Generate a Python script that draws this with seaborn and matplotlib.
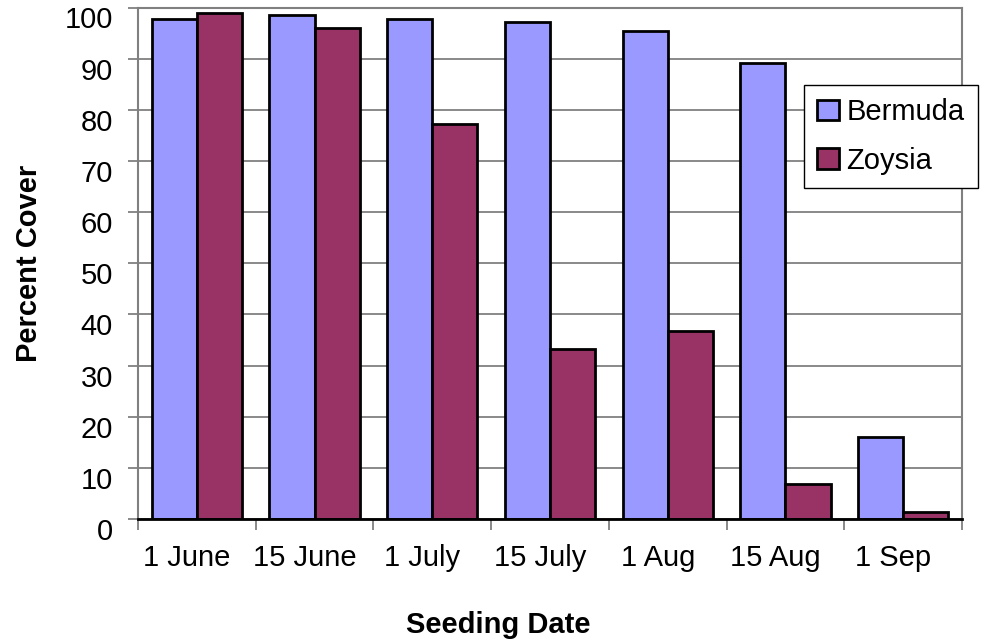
import matplotlib
matplotlib.use("Agg")
import matplotlib.pyplot as plt
from matplotlib.ticker import FixedLocator, MultipleLocator
from matplotlib.transforms import ScaledTranslation
import seaborn as sns
import pandas as pd

# Percent ground cover by seeding date for two warm-season grasses
seeding_dates = ["1 June", "15 June", "1 July", "15 July", "1 Aug", "15 Aug", "1 Sep"]
bermuda = [97.7, 98.5, 97.7, 97.2, 95.5, 89.1, 16.0]
zoysia = [98.9, 95.9, 77.2, 33.2, 36.7, 6.8, 1.3]
grasses = ["Bermuda", "Zoysia"]
colors = {"Bermuda": "#9999FF", "Zoysia": "#993366"}

df = pd.DataFrame({
    "Seeding Date": seeding_dates * 2,
    "Percent Cover": bermuda + zoysia,
    "Grass": [grasses[0]] * len(bermuda) + [grasses[1]] * len(zoysia),
})

sns.set_style("white")
plt.rcParams["font.family"] = ["Liberation Sans", "DejaVu Sans"]
plt.rcParams["text.color"] = "black"
plt.rcParams["axes.labelcolor"] = "black"
plt.rcParams["xtick.color"] = "black"
plt.rcParams["ytick.color"] = "black"

fig = plt.figure(figsize=(9.84, 6.44), dpi=100)
ax = fig.add_axes([138 / 984, 1 - 519 / 644, 824 / 984, 511.5 / 644])

sns.barplot(
    data=df, x="Seeding Date", y="Percent Cover", hue="Grass",
    order=seeding_dates, hue_order=grasses, palette=colors,
    width=0.766, saturation=1, edgecolor="black", linewidth=2,
    errorbar=None, ax=ax, zorder=3,
)

ax.set_xlim(-0.5, len(seeding_dates) - 0.5)
ax.set_ylim(0, 100)
ax.yaxis.set_major_locator(MultipleLocator(10))
ax.grid(axis="y", color="#808080", linewidth=1.3, zorder=0)
ax.set_axisbelow(True)

# Spines: grey frame, black category axis
for side in ("top", "right", "left"):
    ax.spines[side].set_visible(True)
    ax.spines[side].set_color("#808080")
    ax.spines[side].set_linewidth(1.5)
ax.spines["bottom"].set_color("black")
ax.spines["bottom"].set_linewidth(2)
ax.spines["bottom"].set_zorder(4)

# Tick marks between categories, labels under each group
ax.xaxis.set_minor_locator(FixedLocator([i - 0.5 for i in range(len(seeding_dates) + 1)]))
ax.tick_params(axis="x", which="major", length=0, pad=18, labelsize=21, labelcolor="black")
ax.tick_params(axis="x", which="minor", bottom=True, length=8, width=1.3,
               color="#808080", direction="out")
ax.tick_params(axis="y", which="major", left=True, length=7, width=1.3,
               color="#808080", direction="out", pad=11, labelsize=21,
               labelcolor="black")

ax.set_xlabel("Seeding Date", fontsize=21, fontweight="bold", color="black")
ax.xaxis.label.set_va("center")
ax.xaxis.set_label_coords((498 - 138) / 824, (519 - 625) / 511.5)
ax.set_ylabel("Percent Cover", fontsize=21, fontweight="bold", color="black")
ax.yaxis.label.set_va("center")
ax.yaxis.set_label_coords((29 - 138) / 824, 0.5)

# Value labels sit just below their gridline; date labels nudged left
yshift = ScaledTranslation(0, -10 / 100, fig.dpi_scale_trans)
for lbl in ax.get_yticklabels():
    lbl.set_transform(lbl.get_transform() + yshift)
xshift = ScaledTranslation(-10 / 100, 0, fig.dpi_scale_trans)
for lbl in ax.get_xticklabels():
    lbl.set_transform(lbl.get_transform() + xshift)

handles, labels = ax.get_legend_handles_labels()
leg = ax.legend(
    handles, labels, loc="upper left",
    bbox_to_anchor=(804 / 984, 1 - 85 / 644), bbox_transform=fig.transFigure,
    borderaxespad=0, fontsize=21, frameon=True, fancybox=False, shadow=False,
    handlelength=0.75, handleheight=0.7, handletextpad=0.25,
    borderpad=0.45, labelspacing=0.7, title=None,
)
leg.get_frame().set_edgecolor("black")
leg.get_frame().set_linewidth(1.0)
leg.get_frame().set_alpha(1)
leg.set_zorder(5)

fig.savefig("out.png", dpi=100)
